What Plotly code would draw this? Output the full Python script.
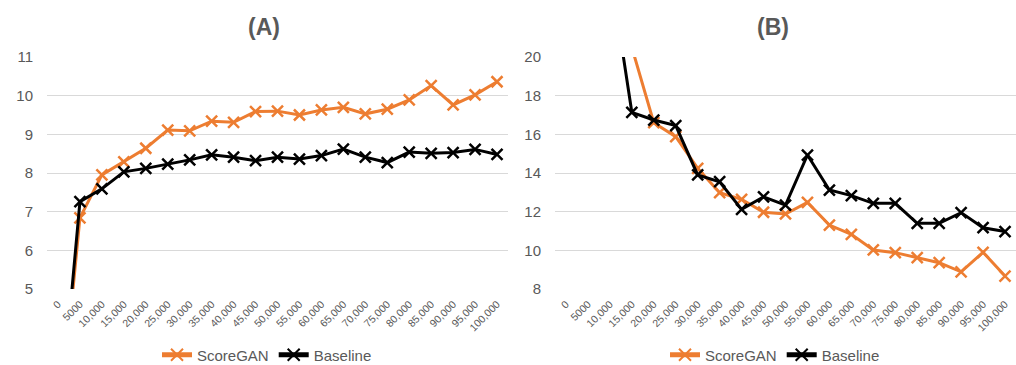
import plotly.graph_objects as go

categories = ["0", "5000", "10,000", "15,000", "20,000", "25,000", "30,000", "35,000",
              "40,000", "45,000", "50,000", "55,000", "60,000", "65,000", "70,000",
              "75,000", "80,000", "85,000", "90,000", "95,000", "100,000"]

a_scoregan = [1.0, 6.84, 7.95, 8.29, 8.64, 9.11, 9.09, 9.34, 9.31, 9.59, 9.60,
              9.50, 9.63, 9.70, 9.53, 9.65, 9.89, 10.26, 9.76, 10.02, 10.36]
a_baseline = [1.0, 7.26, 7.59, 8.03, 8.12, 8.23, 8.34, 8.47, 8.41, 8.32, 8.41,
              8.36, 8.45, 8.62, 8.41, 8.27, 8.54, 8.51, 8.53, 8.61, 8.48]

b_scoregan = [90.0, 60.0, 35.0, 20.5, 16.60, 15.88, 14.24, 12.98, 12.64, 11.97, 11.88,
              12.48, 11.31, 10.83, 10.02, 9.88, 9.62, 9.36, 8.89, 9.90, 8.67]
b_baseline = [90.0, 50.0, 24.6, 17.14, 16.74, 16.45, 13.90, 13.55, 12.12, 12.77, 12.34,
              14.93, 13.12, 12.83, 12.43, 12.43, 11.40, 11.40, 11.95, 11.17, 10.97]

ORANGE = "#ED7D31"
BLACK = "#000000"
GRAY = "#595959"
GRID = "#D9D9D9"
FONT = "Liberation Sans, Arial, sans-serif"

fig = go.Figure()

def add_series(x, y, name, color, xa, ya, legend, show):
    fig.add_trace(go.Scatter(
        x=x, y=y, name=name, mode="lines+markers",
        line=dict(color=color, width=3),
        marker=dict(symbol="x-thin", size=11, color=color,
                    line=dict(color=color, width=2.5)),
        xaxis=xa, yaxis=ya, legend=legend, showlegend=show,
    ))

add_series(categories, a_scoregan, "ScoreGAN", ORANGE, "x", "y", "legend", True)
add_series(categories, a_baseline, "Baseline", BLACK, "x", "y", "legend", True)
add_series(categories, b_scoregan, "ScoreGAN", ORANGE, "x2", "y2", "legend2", True)
add_series(categories, b_baseline, "Baseline", BLACK, "x2", "y2", "legend2", True)

xcommon = dict(type="category", categoryorder="array", categoryarray=categories,
               tickangle=-45, tickfont=dict(size=10.5, color=GRAY, family=FONT),
               showgrid=False, showline=False, zeroline=False, automargin=False,
               ticks="outside", ticklen=4, tickcolor="rgba(0,0,0,0)",
               range=[-0.5, len(categories) - 0.5], fixedrange=True)
ycommon = dict(showgrid=True, gridcolor=GRID, gridwidth=1, zeroline=False,
               showline=False, automargin=False,
               tickfont=dict(size=15, color=GRAY, family=FONT),
               ticks="outside", ticklen=10, tickcolor="rgba(0,0,0,0)")

ydom = [1 - 289 / 365, 1 - 57 / 365]

legend_common = dict(orientation="h", y=1 - 355 / 365, xanchor="center", yanchor="middle",
                     font=dict(size=15, color=GRAY, family=FONT),
                     bgcolor="rgba(0,0,0,0)", itemwidth=30, itemsizing="constant")

fig.update_layout(
    width=1016, height=365,
    margin=dict(l=0, r=0, t=0, b=0, autoexpand=False),
    paper_bgcolor="white", plot_bgcolor="white",
    font=dict(family=FONT, color=GRAY),
    xaxis=dict(domain=[47 / 1016, 508 / 1016], anchor="y", **xcommon),
    yaxis=dict(domain=ydom, anchor="x", range=[5, 11], dtick=1, **ycommon),
    xaxis2=dict(domain=[555 / 1016, 1.0], anchor="y2", **xcommon),
    yaxis2=dict(domain=ydom, anchor="x2", range=[8, 20], dtick=2, **ycommon),
    legend=dict(x=267 / 1016, **legend_common),
    legend2=dict(x=775 / 1016, **legend_common),
    annotations=[
        dict(text="<b>(A)</b>", x=264 / 1016, y=1 - 27 / 365, xref="paper", yref="paper",
             showarrow=False, font=dict(size=23, color=GRAY, family=FONT),
             xanchor="center", yanchor="middle"),
        dict(text="<b>(B)</b>", x=773 / 1016, y=1 - 27 / 365, xref="paper", yref="paper",
             showarrow=False, font=dict(size=23, color=GRAY, family=FONT),
             xanchor="center", yanchor="middle"),
    ],
)

fig.write_html("out.html",
               config={"displayModeBar": False, "staticPlot": True},
               post_script="document.body.style.margin='0';document.body.style.overflow='hidden';")
